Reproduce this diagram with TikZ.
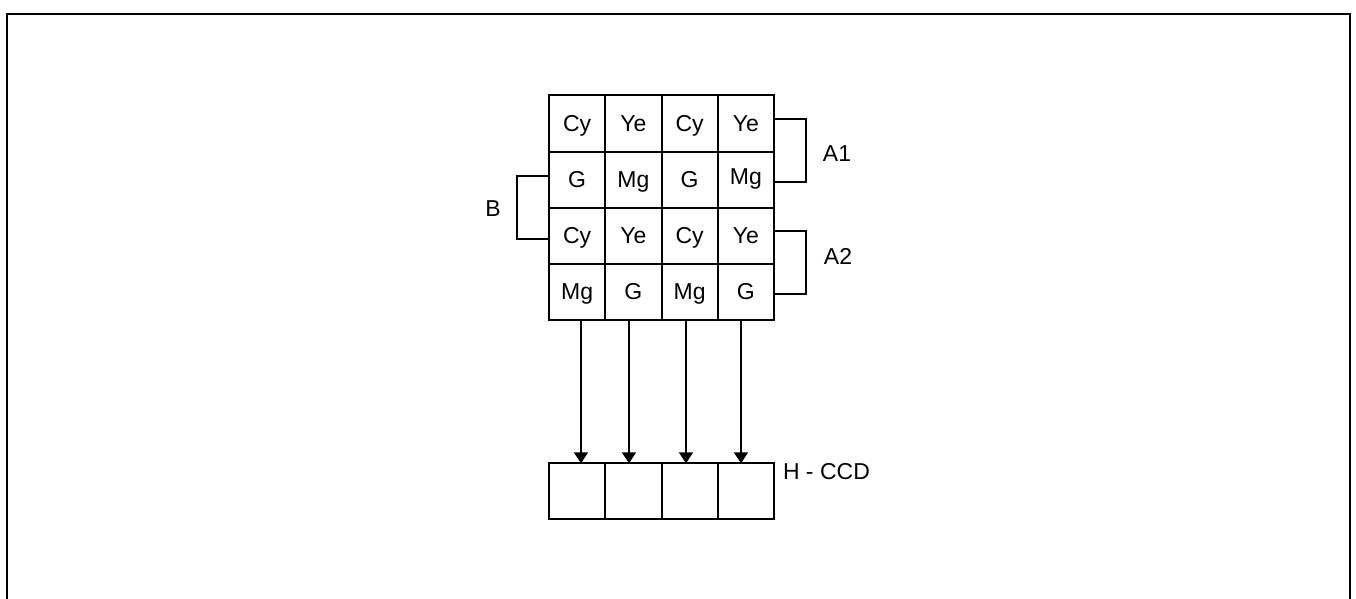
\documentclass[tikz,border=0pt]{standalone}
\usepackage{fontspec}
\setmainfont{Liberation Sans}
\usetikzlibrary{arrows.meta}
\begin{document}
\begin{tikzpicture}[x=1pt,y=-1pt,
  line width=2pt,
  cell/.style={draw,line width=2pt,minimum width=56.25pt,minimum height=56pt,inner sep=0pt,outer sep=0pt},
  hcell/.style={draw,line width=2pt,minimum width=56.25pt,minimum height=55.4pt,inner sep=0pt,outer sep=0pt},
  lbl/.style={inner sep=0pt,font=\fontsize{23}{27}\selectfont},
  arr/.style={-{Triangle[width=14pt,length=11pt]},line width=2pt},
  brk/.style={line width=2pt}]
\useasboundingbox (0,0) rectangle (1356,599);
% outer frame
\draw[line width=2pt] (7,600) -- (7,14) -- (1350,14) -- (1350,600);
% grid cells
\foreach \r/\y in {1/123.5,2/179.5,3/235.5,4/291.5}{
  \foreach \c/\x in {1/577.125,2/633.375,3/689.625,4/745.875}{
    \node[cell] (m\r\c) at (\x,\y) {};
  }
}
% cell texts
\foreach \r/\y in {1/123.5,3/235.5}{
  \node[lbl,anchor=base] (t\r1) at (577.125,\y+8) {Cy};
  \node[lbl,anchor=base] (t\r2) at (633.375,\y+8) {Ye};
  \node[lbl,anchor=base] (t\r3) at (689.625,\y+8) {Cy};
  \node[lbl,anchor=base] (t\r4) at (745.875,\y+8) {Ye};
}
\node[lbl,anchor=base] (t21) at (577.125,187.5) {G};
\node[lbl,anchor=base] (t22) at (633.375,187.5) {Mg};
\node[lbl,anchor=base] (t23) at (689.625,187.5) {G};
\node[lbl,anchor=base] (t24) at (745.875,184.5) {Mg};
\node[lbl,anchor=base] (t41) at (577.125,299.5) {Mg};
\node[lbl,anchor=base] (t42) at (633.375,299.5) {G};
\node[lbl,anchor=base] (t43) at (689.625,299.5) {Mg};
\node[lbl,anchor=base] (t44) at (745.875,299.5) {G};
% H-CCD cells
\foreach \c/\x in {1/577.125,2/633.375,3/689.625,4/745.875}{
  \node[hcell] (h\c) at (\x,491) {};
}
\node[lbl,anchor=west] (hccd) at (782,472) {H - CCD};
% arrows
\coordinate (s1) at (581,319.5);
\coordinate (s2) at (629,319.5);
\coordinate (s3) at (686,319.5);
\coordinate (s4) at (741,319.5);
\draw[arr] (s1) -- (s1 |- h1.north);
\draw[arr] (s2) -- (s2 |- h2.north);
\draw[arr] (s3) -- (s3 |- h3.north);
\draw[arr] (s4) -- (s4 |- h4.north);
% brackets
\coordinate (a1t) at (774,119);
\coordinate (a1b) at (774,181.7);
\coordinate (a2t) at (774,230.7);
\coordinate (a2b) at (774,294.3);
\coordinate (bt) at (549,175.7);
\coordinate (bb) at (549,239.3);
\draw[brk] (a1t) -- ++(31.7,0) |- (a1b);
\draw[brk] (a2t) -- ++(31.7,0) |- (a2b);
\draw[brk] (bt) -- ++(-32.3,0) |- (bb);
\node[lbl] (A1) at (837,154) {A1};
\node[lbl] (A2) at (838,256.7) {A2};
\node[lbl] (B) at (493,209) {B};
\end{tikzpicture}
\end{document}
